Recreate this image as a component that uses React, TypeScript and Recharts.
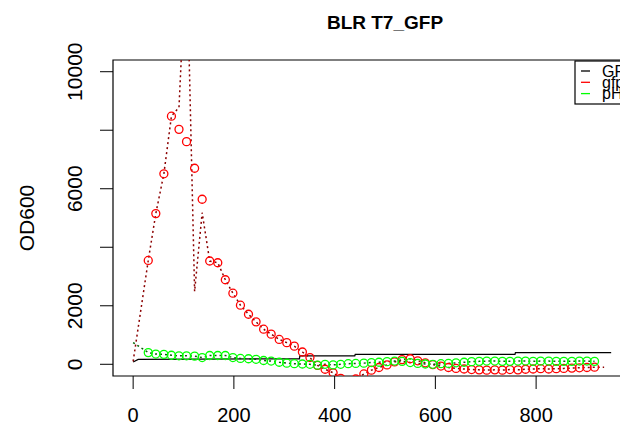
import React from "react";
import { LineChart, Line, XAxis, YAxis, ReferenceArea } from "recharts";

// sampling times (min) of the circle series
const times = [
  30, 45, 61, 76, 91, 106, 122, 137, 152, 168, 183, 198, 213, 229, 244, 259, 274, 290, 305, 320,
  336, 351, 366, 381, 397, 412, 427, 442, 458, 473, 488, 504, 519, 534, 550, 565, 580, 595, 611, 626,
  641, 657, 672, 687, 702, 718, 733, 748, 764, 779, 794, 809, 825, 840, 855, 871, 886, 901, 916,
];

const redOd = [
  3550, 5150, 6510, 8480, 8030, 7610, 6700, 5640, 3530, 3470, 2890, 2430, 2020, 1710, 1450, 1200, 1030, 850, 740, 620,
  420, 230, -40, -170, -290, -480, -560, -500, -330, -200, -110, -20, 80, 160, 190, 120, 50, -10, -60, -110,
  -140, -160, -180, -190, -200, -190, -200, -180, -190, -170, -160, -150, -160, -150, -140, -130, -120, -110, -100,
];

// dotted dark red trace, one value per traceTimes entry
const traceTimes = [0, ...times, 935];
const redTrace = [
  100,
  3550, 5150, 6510, 8480, 8780, 14300, 2490, 5180, 3530, 3470, 2890, 2430, 2020, 1710, 1450, 1200, 1030, 850, 740, 620,
  420, 230, -40, -170, -290, -480, -560, -500, -330, -200, -110, -20, 80, 160, 190, 120, 50, -10, -60, -110,
  -140, -160, -180, -190, -200, -190, -200, -180, -190, -170, -160, -150, -160, -150, -140, -130, -120, -110, -100,
  -100,
];

const greenOd = [
  400, 350, 340, 310, 290, 290, 280, 230, 300, 300, 300, 230, 200, 190, 170, 130, 110, 70, 40, 20,
  10, 0, -30, 0, -20, 0, 20, 30, 40, 60, 70, 90, 110, 100, 60, 30, 10, 0, 20, 30,
  50, 70, 90, 100, 110, 110, 100, 100, 110, 110, 100, 110, 110, 100, 100, 100, 110, 110, 100,
];
const greenTraceTimes = [0, ...times];
const greenTrace = [740, ...greenOd];

const blackTimes = [0, 10, 330, 331, 440, 441, 758, 759, 949];
const blackOd = [80, 170, 190, 290, 290, 340, 340, 400, 400];

const xTicks = [0, 200, 400, 600, 800];
const yTicks = [0, 2000, 4000, 6000, 8000, 10000];
const yTickLabels = ["0", "2000", "", "6000", "", "10000"];

const legendNames = ["GFP", "gfp", "pH"];
const legendColors = ["#000000", "#ff0000", "#00ff00"];

const FONT = "'Liberation Sans', Arial, sans-serif";

const pts = (xs: number[], ys: number[]) => xs.map((t, i) => ({ t, v: ys[i] }));

function YTick(props: any) {
  const { x, y, payload } = props;
  const label = yTickLabels[yTicks.indexOf(payload.value)];
  if (!label) return <g />;
  return (
    <text
      x={x}
      y={y}
      transform={`rotate(-90 ${x} ${y})`}
      textAnchor="middle"
      dominantBaseline="central"
      fontSize={21}
      fontFamily={FONT}
      fill="#000"
    >
      {label}
    </text>
  );
}

export default function App() {
  return (
    <div
      style={{
        position: "absolute",
        left: 0,
        top: 0,
        width: 620,
        height: 426,
        overflow: "hidden",
        background: "#fff",
        fontFamily: FONT,
      }}
    >
      <LineChart width={700} height={426} margin={{ top: 60, right: 43, bottom: 0, left: 0 }}>
        <XAxis
          type="number"
          dataKey="t"
          domain={[-40, 1040]}
          allowDataOverflow
          ticks={xTicks}
          axisLine={false}
          tickLine={{ stroke: "#000" }}
          tickSize={13}
          tickMargin={19}
          height={50}
          tick={{ fontSize: 20, fill: "#000", fontFamily: FONT }}
        />
        <YAxis
          type="number"
          domain={[-400, 10400]}
          allowDataOverflow
          ticks={yTicks}
          axisLine={false}
          tickLine={{ stroke: "#000" }}
          tickSize={13}
          tickMargin={25}
          width={113}
          tick={<YTick />}
        />
        <ReferenceArea x1={-40} x2={1040} y1={-400} y2={10400} fill="none" stroke="#000" strokeWidth={1.2} />
        <Line
          data={pts(blackTimes, blackOd)}
          dataKey="v"
          stroke="#000"
          strokeWidth={1.3}
          dot={false}
          activeDot={false}
          isAnimationActive={false}
        />
        <Line
          data={pts(traceTimes, redTrace)}
          dataKey="v"
          stroke="#8b0000"
          strokeWidth={1.5}
          strokeDasharray="2 3"
          dot={false}
          activeDot={false}
          isAnimationActive={false}
        />
        <Line
          data={pts(times, redOd)}
          dataKey="v"
          stroke="none"
          dot={{ r: 4, stroke: "#ff0000", strokeWidth: 1.3, fill: "none" }}
          activeDot={false}
          isAnimationActive={false}
        />
        <Line
          data={pts(greenTraceTimes, greenTrace)}
          dataKey="v"
          stroke="#006400"
          strokeWidth={1.5}
          strokeDasharray="2 3"
          dot={false}
          activeDot={false}
          isAnimationActive={false}
        />
        <Line
          data={pts(times, greenOd)}
          dataKey="v"
          stroke="none"
          dot={{ r: 4, stroke: "#00ff00", strokeWidth: 1.3, fill: "none" }}
          activeDot={false}
          isAnimationActive={false}
        />
      </LineChart>
      <svg
        width={620}
        height={426}
        style={{ position: "absolute", left: 0, top: 0, pointerEvents: "none" }}
      >
        <text x={385} y={29} textAnchor="middle" fontSize={19} fontWeight="bold" fontFamily={FONT} fill="#000">
          BLR T7_GFP
        </text>
        <text
          x={26}
          y={218}
          transform="rotate(-90 26 218)"
          textAnchor="middle"
          dominantBaseline="central"
          fontSize={21}
          fontFamily={FONT}
          fill="#000"
        >
          OD600
        </text>
        <rect x={575} y={61} width={100} height={43} fill="#fff" stroke="#000" strokeWidth={1.2} />
        {legendNames.map((name, i) => (
          <g key={name}>
            <line x1={581} x2={590} y1={71 + i * 11.3} y2={71 + i * 11.3} stroke={legendColors[i]} strokeWidth={1.3} />
            <text
              x={602}
              y={71 + i * 11.3}
              dominantBaseline="central"
              fontSize={16}
              fontFamily={FONT}
              fill="#000"
            >
              {name}
            </text>
          </g>
        ))}
      </svg>
    </div>
  );
}
